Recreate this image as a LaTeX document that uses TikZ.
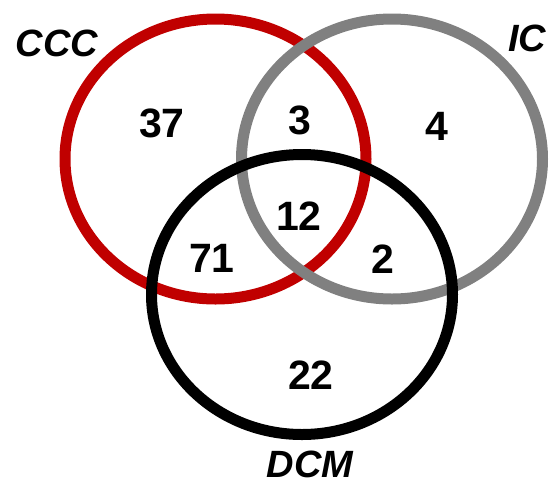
\documentclass[tikz,border=0pt]{standalone}
\usepackage{fontspec}
\setmainfont{Liberation Sans}
\usepackage{tikz}
\usetikzlibrary{shapes.geometric}
\definecolor{cccred}{RGB}{192,0,0}
\definecolor{icgray}{RGB}{128,128,128}

\begin{document}
\begin{tikzpicture}[x=1pt, y=-1pt,
		ring/.style={ellipse, line width=11pt, minimum width=301pt, minimum height=280pt, inner sep=0pt},
		count/.style={inner sep=0pt, font=\fontsize{41}{48}\selectfont\bfseries},
		setname/.style={inner sep=0pt, font=\fontsize{38}{44}\selectfont\bfseries\itshape}]
		\useasboundingbox (0,0) rectangle (549,483);
		\node[ring, draw=cccred] (ccc) at (215.5,159) {};
		\node[ring, draw=icgray] (ic) at (392,159) {};
		\node[ring, draw=black] (dcm) at (302,294.5) {};
		
		\node[setname] (lccc) at (57,43) {CCC};
		\node[setname] (lic) at (527,38) {IC};
		\node[setname] (ldcm) at (310,464) {DCM};
		
		\node[count] (n37) at (162,123) {37};
		\node[count] (n3) at (300,120) {3};
		\node[count] (n4) at (437,126) {4};
		\node[count] (n12) at (299,216) {12};
		\node[count] (n71) at (212,258) {71};
		\node[count] (n2) at (383,259) {2};
		\node[count] (n22) at (311,375) {22};
		
	\end{tikzpicture}
\end{document}
